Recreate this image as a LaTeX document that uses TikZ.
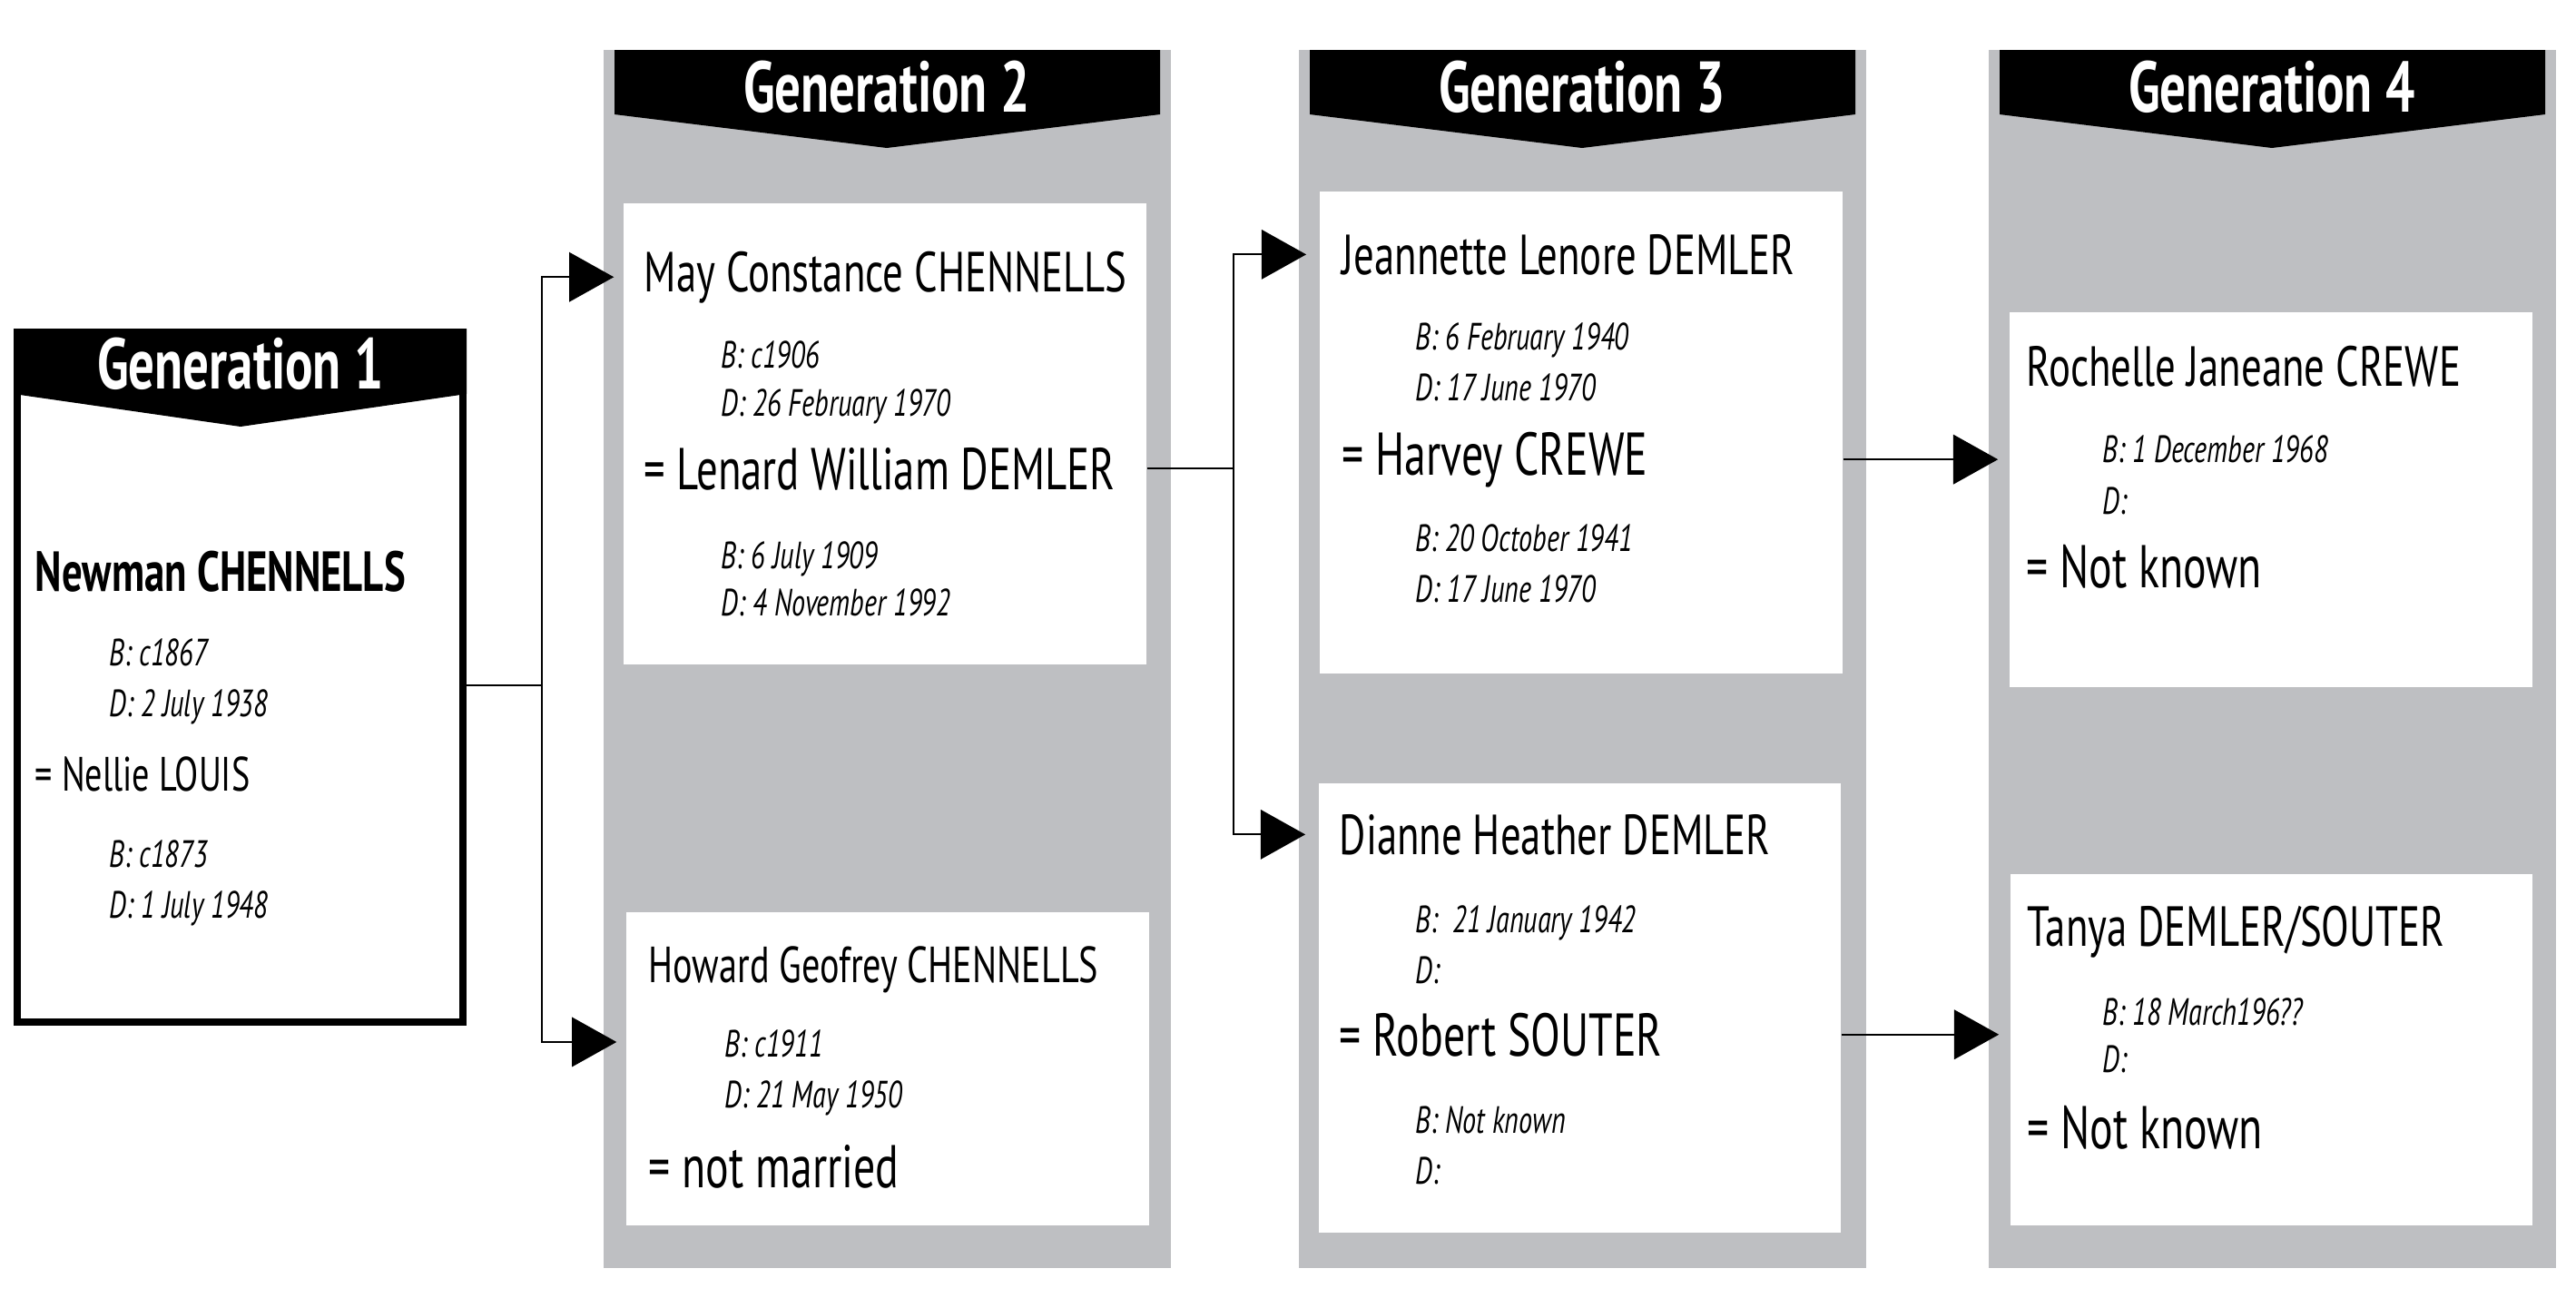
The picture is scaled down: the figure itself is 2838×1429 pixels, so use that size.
\documentclass[tikz,border=0pt]{standalone}
\usepackage{fontspec}
\setmainfont[FakeStretch=0.72]{PT Sans}
\usetikzlibrary{arrows.meta}
\definecolor{colgrey}{RGB}{190,191,194}
\newcommand{\namefont}{\fontsize{17.7}{20}\selectfont}
\newcommand{\spousefont}{\fontsize{18.9}{21}\selectfont}
\newcommand{\datefont}{\fontsize{11.9}{14}\selectfont\itshape}
\newcommand{\genfont}{\fontsize{22.5}{24}\selectfont\bfseries}

\begin{document}
\begin{tikzpicture}[x=0.01cm,y=-0.01cm]
        \tikzset{nm/.style = {anchor=base west, inner sep=0pt, font=\namefont}}
        \tikzset{sp/.style = {anchor=base west, inner sep=0pt, font=\spousefont}}
        \tikzset{dt/.style = {anchor=base west, inner sep=0pt, font=\datefont}}
        \tikzset{hdr/.style = {anchor=base, inner sep=0pt, text=white, font=\genfont}}
        \tikzset{card/.style = {fill=white, inner sep=0pt}}
        \tikzset{link/.style = {line width=0.6pt, -{Triangle[length=14pt,width=15.5pt]}}}

        \useasboundingbox (0,0) rectangle (2838,1429);

        % columns
        \fill[colgrey] (665,55) rectangle (1290,1397);
        \fill[colgrey] (1431,55) rectangle (2056,1397);
        \fill[colgrey] (2191,55) rectangle (2816,1397);

        \fill (677,55) -- (1278,55) -- (1278,126) -- (977,163) -- (677,126) -- cycle;
        \fill (1443,55) -- (2044,55) -- (2044,126) -- (1743,163) -- (1443,126) -- cycle;
        \fill (2203,55) -- (2804,55) -- (2804,126) -- (2503,163) -- (2203,126) -- cycle;

        \node[hdr] (gen2) at (977,123) {Generation 2};
        \node[hdr] (gen3) at (1743,123) {Generation 3};
        \node[hdr] (gen4) at (2503,123) {Generation 4};

        % generation 1
        \node[draw, line width=2.3pt, minimum width=4.91cm, minimum height=7.6cm] (genone) at (264.5,746) {};
        \fill (15,362) -- (514,362) -- (514,434) -- (265,470) -- (15,434) -- cycle;
        \node[hdr] (gen1) at (265,428) {Generation 1};

        \node[nm, font=\fontsize{17.7}{20}\selectfont\bfseries] (newman) at (38,651) {Newman CHENNELLS};
        \node[dt] (newmanb) at (120,733) {B: c1867};
        \node[dt] (newmand) at (120,789) {D: 2 July 1938};
        \node[nm, font=\fontsize{15.1}{17}\selectfont] (nellie) at (38,871) {= Nellie LOUIS};
        \node[dt] (nellieb) at (120,955) {B: c1873};
        \node[dt] (nellied) at (120,1011) {D: 1 July 1948};

        % generation 2
        \node[card, minimum width=5.76cm, minimum height=5.08cm] (may) at (975,478) {};
        \node[card, minimum width=5.76cm, minimum height=3.45cm] (howard) at (978,1177.5) {};

        \node[nm] (mayname) at (709,321) {May Constance CHENNELLS};
        \node[dt] (mayb) at (794,405) {B: c1906};
        \node[dt] (mayd) at (794,458) {D: 26 February 1970};
        \node[sp, font=\fontsize{18.5}{21}\selectfont] (lenard) at (709,539) {= Lenard William DEMLER};
        \node[dt] (lenardb) at (794,626) {B: 6 July 1909};
        \node[dt] (lenardd) at (794,678) {D: 4 November 1992};

        \node[nm, font=\fontsize{15.9}{18}\selectfont] (howardname) at (714,1082) {Howard Geofrey CHENNELLS};
        \node[dt] (howardb) at (798,1164) {B: c1911};
        \node[dt] (howardd) at (798,1220) {D: 21 May 1950};
        \node[sp] (notmarried) at (714,1308) {= not married};

        % generation 3
        \node[card, minimum width=5.76cm, minimum height=5.31cm] (jeannette) at (1742,476.5) {};
        \node[card, minimum width=5.75cm, minimum height=4.95cm] (dianne) at (1740.5,1110.5) {};

        \node[nm] (jeanname) at (1478,302) {Jeannette Lenore DEMLER};
        \node[dt] (jeanb) at (1559,385) {B: 6 February 1940};
        \node[dt] (jeand) at (1559,441) {D: 17 June 1970};
        \node[sp] (harvey) at (1478,523) {= Harvey CREWE};
        \node[dt] (harveyb) at (1559,607) {B: 20 October 1941};
        \node[dt] (harveyd) at (1559,663) {D: 17 June 1970};

        \node[nm] (diannename) at (1475,941) {Dianne Heather DEMLER};
        \node[dt] (dianneb) at (1559,1027) {B:~ 21 January 1942};
        \node[dt] (dianned) at (1559,1083) {D:};
        \node[sp] (robert) at (1475,1163) {= Robert SOUTER};
        \node[dt] (robertb) at (1559,1248) {B: Not known};
        \node[dt] (robertd) at (1559,1304) {D:};

        % generation 4
        \node[card, minimum width=5.76cm, minimum height=4.13cm] (rochelle) at (2502,550.5) {};
        \node[card, minimum width=5.75cm, minimum height=3.87cm] (tanya) at (2502.5,1156.5) {};

        \node[nm] (rochname) at (2232,425) {Rochelle Janeane CREWE};
        \node[dt] (rochb) at (2316,509) {B: 1 December 1968};
        \node[dt] (rochd) at (2316,566) {D:};
        \node[sp] (rochsp) at (2232,647) {= Not known};

        \node[nm] (tanyaname) at (2233,1042) {Tanya DEMLER/SOUTER};
        \node[dt] (tanyab) at (2316,1129) {B: 18 March196??};
        \node[dt] (tanyad) at (2316,1181) {D:};
        \node[sp] (tanyasp) at (2233,1265) {= Not known};

        % links
        \draw[link, shorten >=2.8pt] ([yshift=-2.5pt]genone.east) -- ++(83,0) |- (may.west |- mayname.west);
        \draw[link, shorten >=2.8pt] ([yshift=-2.5pt]genone.east) -- ++(83,0) |- ([yshift=8.4pt]howard.west);
        \draw[link, shorten >=4pt] (may.east |- lenard.west) -- ++(95,0) |- (jeannette.west |- jeanname.west);
        \draw[link, shorten >=4pt] (may.east |- lenard.west) -- ++(95,0) |- (dianne.west |- diannename.west);
        \draw[link, shorten >=3.4pt] (jeannette.east |- harvey.west) -- (rochelle.west |- harvey.west);
        \draw[link, shorten >=3.4pt] (dianne.east |- robert.west) -- (tanya.west |- robert.west);

\end{tikzpicture}
\end{document}
